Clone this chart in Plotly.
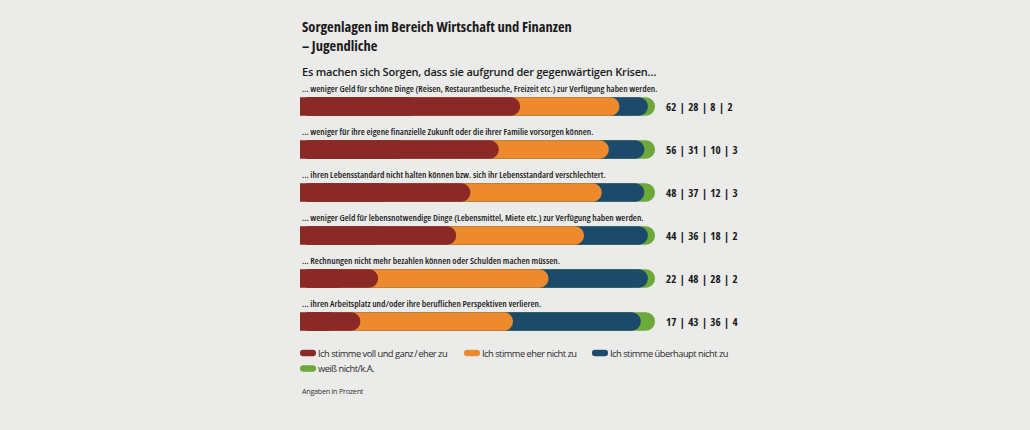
import plotly.graph_objects as go

# ---------------- data ----------------
categories = [
    "… weniger Geld für schöne Dinge (Reisen, Restaurantbesuche, Freizeit etc.) zur Verfügung haben werden.",
    "… weniger für ihre eigene finanzielle Zukunft oder die ihrer Familie vorsorgen können.",
    "… ihren Lebensstandard nicht halten können bzw. sich ihr Lebensstandard verschlechtert.",
    "… weniger Geld für lebensnotwendige Dinge (Lebensmittel, Miete etc.) zur Verfügung haben werden.",
    "… Rechnungen nicht mehr bezahlen können oder Schulden machen müssen.",
    "… ihren Arbeitsplatz und/oder ihre beruflichen Perspektiven verlieren.",
]
voll_ganz = [62, 56, 48, 44, 22, 17]
eher_nicht = [28, 31, 37, 36, 48, 43]
ueberhaupt_nicht = [8, 10, 12, 18, 28, 36]
weiss_nicht = [2, 3, 3, 2, 2, 4]

series_names = [
    "Ich stimme voll und ganz\u2009/\u2009eher zu",
    "Ich stimme eher nicht zu",
    "Ich stimme überhaupt nicht zu",
    "weiß nicht/k.A.",
]
title_lines = ["Sorgenlagen im Bereich Wirtschaft und Finanzen", "– Jugendliche"]
subtitle = "Es machen sich Sorgen, dass sie aufgrund der gegenwärtigen Krisen…"
footnote = "Angaben in Prozent"

# ---------------- styles ----------------
COLORS = ["#8a2925", "#ee8a2e", "#1c4a6b", "#6da83a"]
BG = "#ebebea"
TXT = "#1a1a1a"
W, H = 1030, 430
LEFT = 300
PX_PER_UNIT = 3.55
ROW0 = 106.5      # pixel centre of first bar
ROW_STEP = 43.0   # pixel distance between bars
BAR_PX = 18.5

FONT = "Open Sans, Noto Sans, sans-serif"


def styled(text, css):
    return f"<span style='{css}'>{text}</span>"


COND = "font-stretch:condensed"

n = len(categories)
rows = list(range(n))
series = [voll_ganz, eher_nicht, ueberhaupt_nicht, weiss_nicht]

# cumulative ends
cum = []
run = [0] * n
for s in series:
    run = [a + b for a, b in zip(run, s)]
    cum.append(run)

fig = go.Figure()
# draw back to front: green (total) ... red on top, each with rounded right end
for k in reversed(range(4)):
    fig.add_trace(go.Bar(
        x=cum[k], y=rows, base=0, orientation="h",
        width=BAR_PX / ROW_STEP,
        marker=dict(color=COLORS[k], cornerradius="50%", line=dict(width=0)),
        name=series_names[k], showlegend=False, hoverinfo="skip",
    ))
# square off the left end of the stack
fig.add_trace(go.Bar(
    x=[v / 2 for v in voll_ganz], y=rows, base=0, orientation="h",
    width=BAR_PX / ROW_STEP,
    marker=dict(color=COLORS[0], line=dict(width=0)),
    showlegend=False, hoverinfo="skip",
))

annotations = []
# category labels
for i, c in enumerate(categories):
    annotations.append(dict(
        x=0, y=i, xref="x", yref="y", xanchor="left", yanchor="middle",
        yshift=18.5, text=styled(c, COND), showarrow=False,
        font=dict(family=FONT, size=9.3, color=TXT, weight=600),
    ))
# value labels
SEP = "\u2009\u2009|\u2009\u2009"
for i in range(n):
    txt = SEP.join(str(s[i]) for s in series)
    annotations.append(dict(
        x=cum[-1][i], y=i, xref="x", yref="y", xanchor="left", yanchor="middle",
        xshift=9, text=styled(txt, COND), showarrow=False,
        font=dict(family=FONT, size=11, color=TXT, weight="bold"),
    ))


def py(pix):
    return 1 - pix / H


# title & subtitle
annotations.append(dict(
    x=0, y=py(36), xref="paper", yref="paper", xanchor="left", yanchor="middle",
    text="<br>".join(styled(t, COND) for t in title_lines), showarrow=False, align="left",
    font=dict(family=FONT, size=14.5, color=TXT, weight="bold"),
))
annotations.append(dict(
    x=0, y=py(71), xref="paper", yref="paper", xanchor="left", yanchor="middle",
    text=styled(subtitle, "letter-spacing:-0.2px"), showarrow=False,
    font=dict(family=FONT, size=11, color=TXT, weight=600),
))
annotations.append(dict(
    x=0, y=py(390.5), xref="paper", yref="paper", xanchor="left", yanchor="middle",
    text=styled(footnote, "letter-spacing:-0.25px"), showarrow=False,
    font=dict(family=FONT, size=7.2, color="#333333"),
))

# custom legend with pill swatches
legend_pos = [(0, 353), (164, 353), (292, 353), (0, 368.5)]
shapes = []
pill = "M 3.2 -3.2 L 12.8 -3.2 Q 16 -3.2 16 0 Q 16 3.2 12.8 3.2 L 3.2 3.2 Q 0 3.2 0 0 Q 0 -3.2 3.2 -3.2 Z"
for k, (dx, yy) in enumerate(legend_pos):
    xp = dx / (W - LEFT)
    shapes.append(dict(
        type="path", xref="paper", yref="paper", xsizemode="pixel", ysizemode="pixel",
        xanchor=xp, yanchor=py(yy), path=pill,
        fillcolor=COLORS[k], line=dict(width=0), layer="above",
    ))
    annotations.append(dict(
        x=xp, y=py(yy), xref="paper", yref="paper", xanchor="left", yanchor="middle",
        xshift=16, text=styled(series_names[k], "letter-spacing:-0.5px"), showarrow=False,
        font=dict(family=FONT, size=9.3, color="#2a2a2a"),
    ))

plot_w = W - LEFT
fig.update_layout(
    width=W, height=H,
    margin=dict(l=LEFT, r=0, t=0, b=0),
    paper_bgcolor=BG, plot_bgcolor=BG,
    barmode="overlay",
    xaxis=dict(range=[0, plot_w / PX_PER_UNIT], visible=False, fixedrange=True),
    yaxis=dict(range=[(H - ROW0) / ROW_STEP, -ROW0 / ROW_STEP], visible=False, fixedrange=True),
    annotations=annotations,
    shapes=shapes,
    showlegend=False,
)

fig.write_html("out.html")
